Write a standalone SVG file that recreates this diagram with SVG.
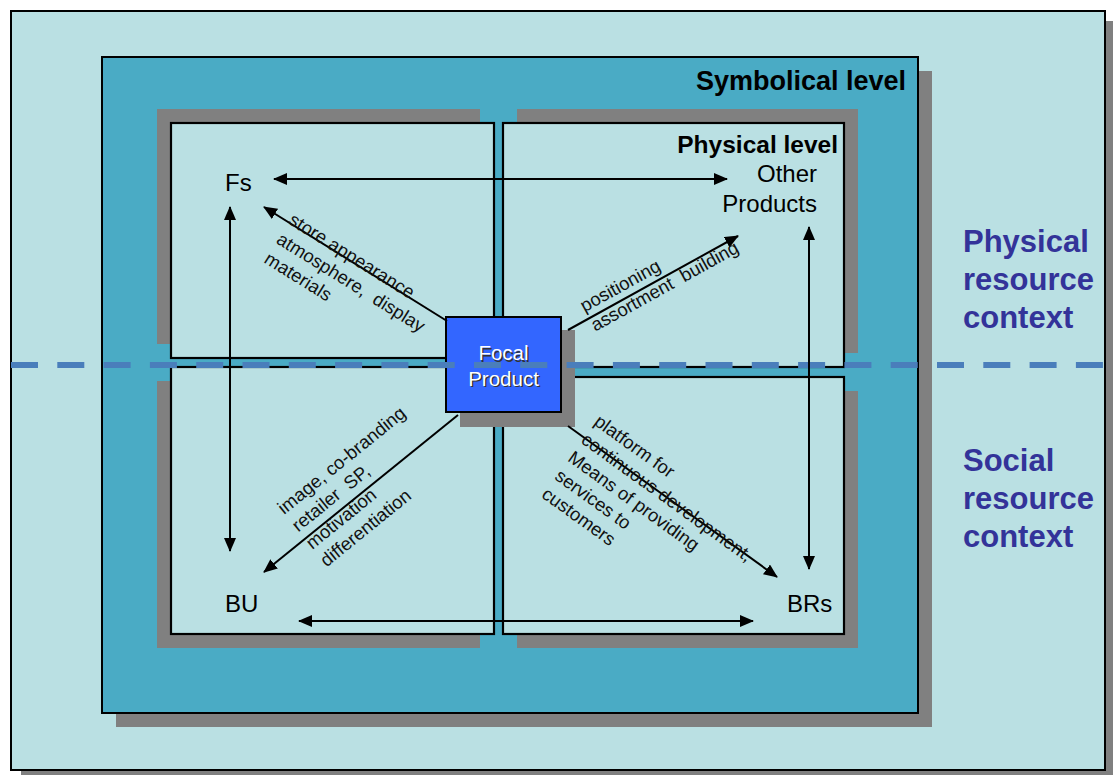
<svg xmlns="http://www.w3.org/2000/svg" width="1113" height="775" viewBox="0 0 1113 775">
  <defs>
    <style>
      .shadow { fill: #808080; }
      .pale { fill: #BAE0E3; stroke: #000; stroke-width: 2; }
      .sym { fill: #4AABC5; stroke: #000; stroke-width: 2; }
      .quad { fill: #BAE0E3; stroke: #000; stroke-width: 2.2; }
      .focal { fill: #3366FF; stroke: #000; stroke-width: 2; }
      .lbl { font-family: "Liberation Sans", Arial, sans-serif; font-size: 24px; fill: #000; }
      .bold { font-family: "Liberation Sans", Arial, sans-serif; font-weight: bold; fill: #000; }
      .ctx { font-family: "Liberation Sans", Arial, sans-serif; font-weight: bold; font-size: 31px; fill: #333399; }
      .diag { font-family: "Liberation Sans", Arial, sans-serif; font-size: 18.5px; fill: #111; white-space: pre; }
      .conn { stroke: #000; stroke-width: 2; fill: none; }
      .dash { stroke: #4A7EBB; stroke-width: 6; stroke-dasharray: 27 19.3; fill: none; }
    </style>
    <marker id="ah" markerUnits="userSpaceOnUse" viewBox="0 0 14 12" markerWidth="14" markerHeight="12" refX="13" refY="6" orient="auto-start-reverse">
      <path d="M0,0 L14,6 L0,12 z" fill="#000"/>
    </marker>
  </defs>

  <!-- resource context frame -->
  <g id="context-frame">
    <rect class="shadow" x="21" y="21" width="1094" height="759"/>
    <rect class="pale" x="11" y="11" width="1094" height="759"/>
    <text class="ctx"><tspan x="963" y="252">Physical</tspan><tspan x="963" y="290">resource</tspan><tspan x="963" y="328">context</tspan></text>
    <text class="ctx"><tspan x="963" y="471">Social</tspan><tspan x="963" y="509">resource</tspan><tspan x="963" y="547">context</tspan></text>
  </g>

  <!-- symbolical level -->
  <g id="symbolical-level">
    <rect class="shadow" x="116" y="71" width="816" height="656"/>
    <rect class="sym" x="102" y="57" width="816" height="656"/>
    <text class="bold" x="906" y="90" font-size="27" text-anchor="end">Symbolical level</text>
  </g>

  <!-- quadrant shadows -->
  <g id="quadrant-shadows">
    <rect class="shadow" x="157" y="109" width="323" height="235"/>
    <rect class="shadow" x="517" y="109" width="341" height="244"/>
    <rect class="shadow" x="157" y="381" width="323" height="267"/>
    <rect class="shadow" x="517" y="391" width="341" height="257"/>
  </g>

  <g id="fs">
    <rect class="quad" x="171" y="123" width="323" height="235"/>
    <text class="lbl" x="225" y="191">Fs</text>
  </g>
  <g id="other-products">
    <rect class="quad" x="503" y="123" width="341" height="244"/>
    <text class="bold" x="838" y="153" font-size="24.5" text-anchor="end">Physical level</text>
    <text class="lbl" text-anchor="end"><tspan x="817" y="182">Other</tspan><tspan x="817" y="212">Products</tspan></text>
  </g>
  <g id="bu">
    <rect class="quad" x="171" y="367" width="323" height="267"/>
    <text class="lbl" x="225" y="612">BU</text>
  </g>
  <g id="brs">
    <rect class="quad" x="503" y="377" width="341" height="257"/>
    <text class="lbl" x="787" y="612">BRs</text>
  </g>

  <g id="focal-product">
    <rect class="shadow" x="460" y="330" width="115" height="97"/>
    <rect class="focal" x="446" y="317" width="115" height="95"/>
  </g>

  <!-- boundary between physical and social resource context -->
  <line class="dash" x1="11" y1="365" x2="1104" y2="365"/>

  <g id="focal-label" font-family="'Liberation Sans', Arial, sans-serif" font-size="20.5" text-anchor="middle">
    <text fill="#333" x="505" y="361.5">Focal</text>
    <text fill="#333" x="505" y="387">Product</text>
    <text fill="#fff" x="503.5" y="360">Focal</text>
    <text fill="#fff" x="503.5" y="385.5">Product</text>
  </g>

  <g id="connectors">
    <path class="conn" d="M274,179 H727" marker-start="url(#ah)" marker-end="url(#ah)"/>
    <path class="conn" d="M230,207 V551" marker-start="url(#ah)" marker-end="url(#ah)"/>
    <path class="conn" d="M809,227 V569" marker-start="url(#ah)" marker-end="url(#ah)"/>
    <path class="conn" d="M299,621 H753" marker-start="url(#ah)" marker-end="url(#ah)"/>
    <path class="conn" d="M447,321 L264,207" marker-end="url(#ah)"/>
    <path class="conn" d="M568,330 L738,236" marker-end="url(#ah)"/>
    <path class="conn" d="M458,415 L264,572" marker-end="url(#ah)"/>
    <path class="conn" d="M568,426 L777,577" marker-end="url(#ah)"/>

    <text class="diag" transform="translate(287.5,223) rotate(32)"><tspan x="0" y="0">store appearance</tspan><tspan x="0" y="23">atmosphere,  display</tspan><tspan x="0" y="46">materials</tspan></text>
    <text class="diag" transform="translate(584.6,312.6) rotate(-29)"><tspan x="0" y="0">positioning</tspan><tspan x="0" y="22">assortment  building</tspan></text>
    <text class="diag" transform="translate(284,515) rotate(-39)"><tspan x="0" y="0">image, co-branding</tspan><tspan x="0" y="22.5">retailer  SP,</tspan><tspan x="0" y="45">motivation</tspan><tspan x="0" y="67.5">differentiation</tspan></text>
    <text class="diag" transform="translate(593,424) rotate(35.8)"><tspan x="0" y="0">platform for</tspan><tspan x="0" y="22.4">continuous development,</tspan><tspan x="0" y="44.8">Means of providing</tspan><tspan x="0" y="67.2">services to</tspan><tspan x="0" y="89.6">customers</tspan></text>
  </g>
</svg>
